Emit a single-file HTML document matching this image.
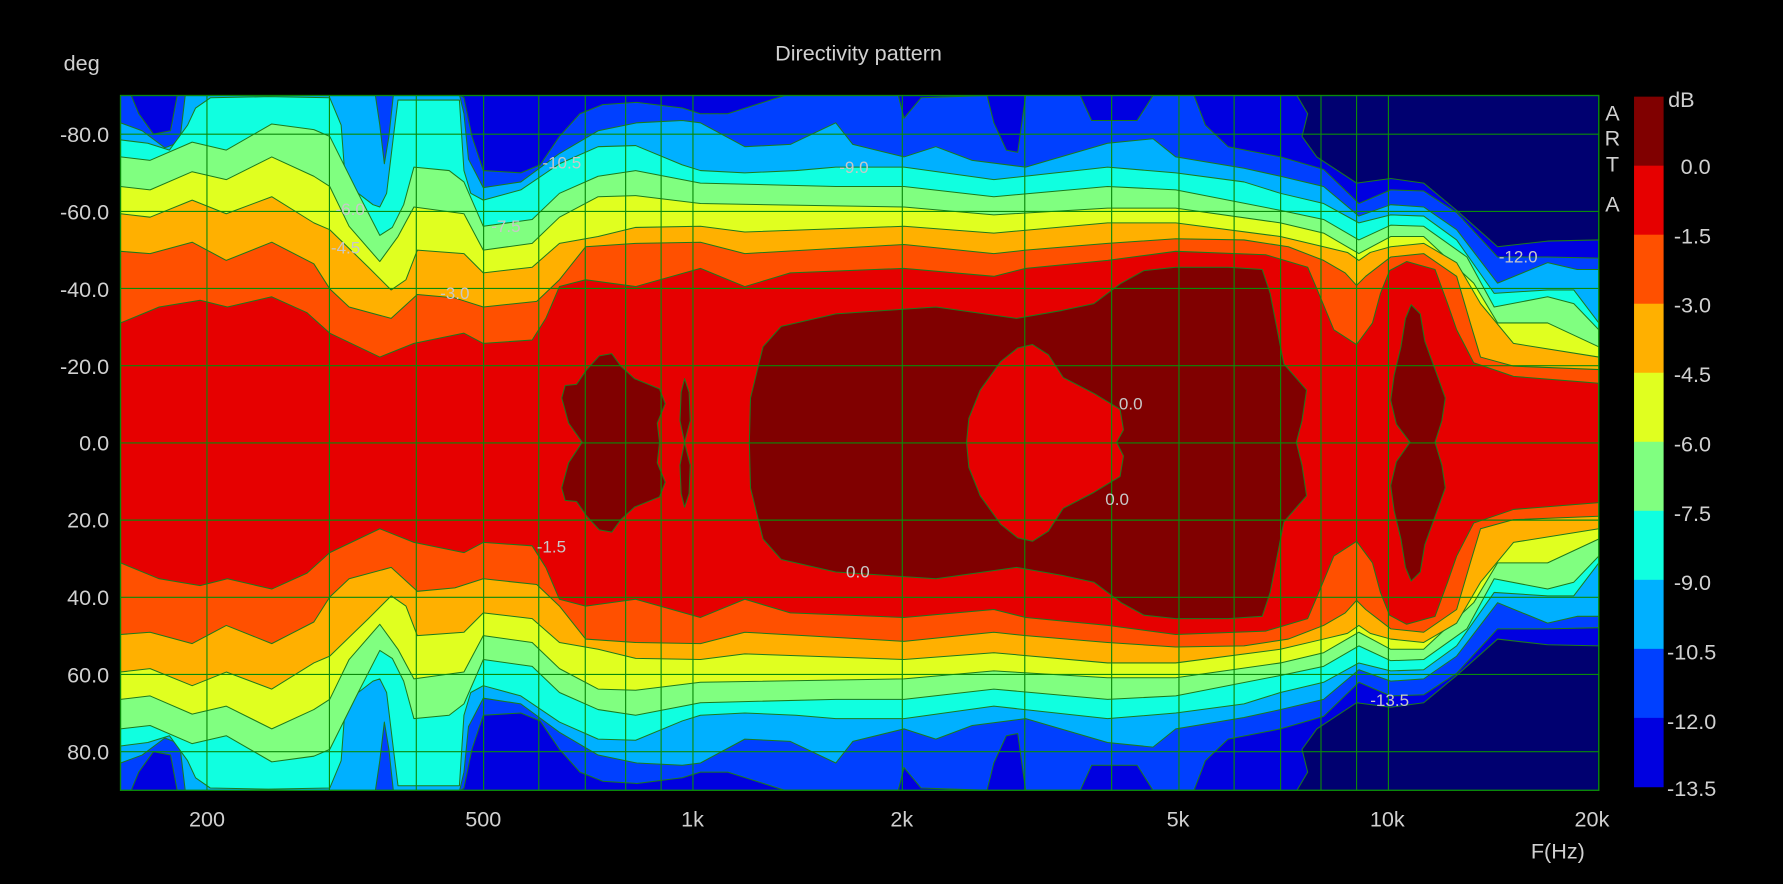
<!DOCTYPE html>
<html><head><meta charset="utf-8">
<style>
html,body{margin:0;padding:0;background:#000;}
svg{display:block;}
text{font-family:"Liberation Sans",sans-serif;}
</style></head>
<body>
<svg width="1783" height="884" viewBox="0 0 1568 777.4" xmlns="http://www.w3.org/2000/svg">
<rect x="0" y="0" width="1568" height="777.4" fill="#000"/>
<defs><clipPath id="cp"><rect x="106" y="84" width="1300" height="611"/></clipPath></defs>
<g clip-path="url(#cp)" stroke="#1c7a1c" stroke-width="0.9" stroke-linejoin="round">
<rect x="106" y="84" width="1300" height="611" fill="#000070" stroke="none"/>
<polygon fill="#0000e0" points="100,83 106,83 1140,83 1150,100 1145,120 1158,138 1193,161 1223,157 1252,161 1281,185 1317,217 1361,212 1406,211 1412,211 1412,568 1406,568 1361,567 1317,562 1281,594 1252,618 1223,622 1193,618 1158,641 1145,659 1150,679 1140,696 106,696 100,696"/>
<polygon fill="#0040ff" points="100,83 106,83 115,83 122,100 135,118 150,115 156,83 404,83 408,86 415,120 425,150 458,152 475,145 492,120 510,100 530,92 560,90 600,95 616,100 640,100 690,84 790,84 795,104 810,86 868,84 874,108 885,132 895,134 902,84 950,84 960,106 1000,106 1014,84 1050,84 1060,110 1080,129 1126,138 1164,149 1195,179 1223,167 1252,168 1281,187 1317,226 1361,226 1406,227 1412,227 1412,552 1406,552 1361,553 1317,553 1281,592 1252,611 1223,612 1195,600 1164,630 1126,641 1080,650 1060,669 1050,695 1014,695 1000,673 960,673 950,695 902,695 895,645 885,647 874,671 868,695 810,693 795,675 790,695 690,695 640,679 616,679 600,684 560,689 530,687 510,679 492,659 475,634 458,627 425,629 415,659 408,693 404,696 156,696 150,664 135,661 122,679 115,696 100,696"/>
<polygon fill="#00b0ff" points="100,108 106,108 125,115 145,130 158,125 163,83 330,83 334,110 338,144 342,120 346,83 404,83 408,100 412,140 425,165 458,160 492,135 526,115 560,108 600,106 616,108 655,129 695,127 735,108 750,127 795,138 823,129 855,141 902,147 974,126 1014,122 1034,138 1094,148 1126,155 1164,164 1195,190 1223,180 1252,182 1281,202 1317,249 1361,231 1387,237 1406,237 1412,237 1412,542 1406,542 1387,542 1361,548 1317,530 1281,577 1252,597 1223,599 1195,589 1164,615 1126,624 1094,631 1034,641 1014,657 974,653 902,632 855,638 823,650 795,641 750,652 735,671 695,652 655,650 616,671 600,673 560,671 526,664 492,644 458,619 425,614 412,639 408,679 404,696 346,696 342,659 338,635 334,669 330,696 163,696 158,654 145,649 125,664 106,671 100,671"/>
<polygon fill="#10ffe0" points="100,123 106,123 130,126 149,132 165,110 172,95 185,86 236,85 290,86 300,110 303,150 315,170 328,180 334,182 340,170 346,120 350,88 404,88 408,150 414,170 425,176 458,167 492,144 526,129 559,128 600,145 616,150 655,152 700,150 735,147 795,147 874,158 974,147 1034,152 1094,160 1126,170 1164,179 1195,196 1223,189 1252,190 1281,211 1314,258 1361,255 1384,255 1406,284 1412,284 1412,495 1406,495 1384,524 1361,524 1314,521 1281,568 1252,589 1223,590 1195,583 1164,600 1126,609 1094,619 1034,627 974,632 874,621 795,632 735,632 700,629 655,627 616,629 600,634 559,651 526,650 492,635 458,612 425,603 414,609 408,629 404,691 350,691 346,659 340,609 334,597 328,599 315,609 303,629 300,669 290,693 236,694 185,693 172,684 165,669 149,647 130,653 106,656 100,656"/>
<polygon fill="#80ff80" points="100,138 106,138 132,141 169,125 199,132 239,109 276,114 290,120 305,150 315,170 334,207 345,200 355,180 364,147 395,150 408,160 425,199 468,193 492,170 526,155 559,150 616,161 735,164 795,164 874,173 974,164 1034,167 1126,185 1164,193 1195,211 1223,198 1252,199 1290,226 1314,270 1361,261 1384,267 1406,290 1412,290 1412,489 1406,489 1384,512 1361,518 1314,509 1290,553 1252,580 1223,581 1195,568 1164,586 1126,594 1034,612 974,615 874,606 795,615 735,615 616,618 559,629 526,624 492,609 468,586 425,580 408,619 395,629 364,632 355,599 345,579 334,572 315,609 305,629 290,659 276,665 239,670 199,647 169,654 132,638 106,641 100,641"/>
<polygon fill="#e0ff20" points="100,164 106,164 132,167 169,151 199,158 239,138 276,155 290,164 307,199 334,230 350,208 364,182 408,188 425,220 468,214 492,191 526,173 559,172 616,179 795,182 874,189 974,183 1034,183 1126,196 1164,205 1195,223 1223,208 1252,208 1296,249 1317,284 1361,284 1406,305 1412,305 1412,474 1406,474 1361,495 1317,495 1296,530 1252,571 1223,571 1195,556 1164,574 1126,583 1034,596 974,596 874,590 795,597 616,600 559,607 526,606 492,588 468,565 425,559 408,591 364,597 350,571 334,549 307,580 290,615 276,624 239,641 199,621 169,628 132,612 106,615 100,615"/>
<polygon fill="#ffb000" points="100,188 106,188 132,191 169,176 199,188 239,173 276,196 290,202 324,235 344,255 357,246 367,220 408,223 425,240 468,235 492,214 526,208 559,200 616,199 655,204 795,199 874,205 974,196 1034,196 1126,208 1164,217 1185,222 1195,229 1205,222 1223,217 1252,214 1281,231 1302,267 1331,302 1406,314 1412,314 1412,465 1406,465 1331,477 1302,512 1281,548 1252,565 1223,562 1205,557 1195,550 1185,557 1164,562 1126,571 1034,583 974,583 874,574 795,580 655,575 616,580 559,579 526,571 492,565 468,544 425,539 408,556 367,559 357,533 344,524 324,544 290,577 276,583 239,606 199,591 169,603 132,588 106,591 100,591"/>
<polygon fill="#ff5000" points="100,221 106,221 132,223 169,213 199,229 239,213 276,232 290,254 307,270 344,280 367,259 400,262 425,270 472,265 492,246 515,217 559,214 616,213 655,223 795,215 874,223 902,220 974,214 1034,210 1094,211 1133,217 1164,229 1183,240 1193,251 1201,243 1223,226 1252,223 1281,243 1293,284 1302,314 1331,322 1406,325 1412,325 1412,454 1406,454 1331,457 1302,465 1293,495 1281,536 1252,556 1223,553 1201,536 1193,528 1183,539 1164,550 1133,562 1094,568 1034,569 974,565 902,559 874,556 795,564 655,556 616,566 559,565 515,562 492,533 472,514 425,509 400,517 367,520 344,499 307,509 290,525 276,547 239,566 199,550 169,566 132,556 106,558 100,558"/>
<polygon fill="#e60000" points="100,284 106,284 140,270 176,264 200,270 239,261 270,275 290,293 334,314 364,302 408,293 425,302 468,299 480,280 492,252 515,246 559,252 616,236 655,252 695,240 795,236 874,243 902,236 974,229 1034,221 1113,224 1150,235 1161,261 1173,290 1193,303 1207,284 1214,258 1222,238 1237,230 1262,237 1273,267 1281,290 1296,319 1331,331 1406,337 1412,337 1412,442 1406,442 1331,448 1296,460 1281,489 1273,512 1262,542 1237,549 1222,541 1214,521 1207,495 1193,476 1173,489 1161,518 1150,544 1113,555 1034,558 974,550 902,543 874,536 795,543 695,539 655,527 616,543 559,527 515,533 492,527 480,499 468,480 425,477 408,486 364,477 334,465 290,486 270,504 239,518 200,509 176,515 140,509 106,495 100,495"/>
<polygon fill="#800000" points="659,389 660,350 671,305 687,287 735,276 823,270 894,280 934,273 962,267 986,249 1006,238 1034,235 1080,235 1110,237 1117,258 1129,320 1149,343 1145,370 1140,389 1145,409 1149,436 1129,459 1117,521 1110,542 1080,544 1034,544 1006,541 986,530 962,512 934,506 894,499 823,509 735,503 687,492 671,474 660,429"/>
<polygon fill="#e60000" points="850,389 852,368 862,343 880,318 895,306 908,303 922,312 935,332 962,346 985,360 988,378 982,389 988,401 985,419 962,433 935,447 922,467 908,476 895,473 880,461 862,436 852,411"/>
<polygon fill="#800000" points="512,389 500,372 494,350 497,339 507,338 516,325 527,313 538,311 546,322 558,333 580,342 585,355 578,372 580,389 578,407 585,424 580,437 558,446 546,457 538,468 527,466 516,454 507,441 497,440 494,429 500,407"/>
<polygon fill="#800000" points="602,389 598,370 599,345 602,333 606,345 607,370 602,389 607,409 606,434 602,446 599,434 598,409"/>
<polygon fill="#800000" points="1240,389 1228,373 1223,352 1226,330 1232,305 1236,280 1241,268 1249,276 1253,300 1265,333 1271,350 1268,370 1262,389 1268,409 1271,429 1265,446 1253,479 1249,503 1241,511 1236,499 1232,474 1226,449 1223,427 1228,406"/>
</g>
<g stroke="#0a8a0a" stroke-width="1" fill="none">
<path d="M106,118H1406M106,185.9H1406M106,253.7H1406M106,321.6H1406M106,389.5H1406M106,457.4H1406M106,525.3H1406M106,593.1H1406M106,661H1406"/>
<path d="M182,84V695M289.7,84V695M366.1,84V695M425.3,84V695M473.8,84V695M514.7,84V695M550.2,84V695M581.4,84V695M609.4,84V695M793.5,84V695M901.2,84V695M977.6,84V695M1036.8,84V695M1085.3,84V695M1126.2,84V695M1161.7,84V695M1193,84V695M1221,84V695"/>
<rect x="106" y="84" width="1300" height="611" stroke-width="1.2"/>
</g>
<rect x="1437" y="85" width="26" height="61" fill="#800000"/>
<rect x="1437" y="145.7" width="26" height="61" fill="#e60000"/>
<rect x="1437" y="206.4" width="26" height="61" fill="#ff5000"/>
<rect x="1437" y="267.1" width="26" height="61" fill="#ffb000"/>
<rect x="1437" y="327.8" width="26" height="61" fill="#e0ff20"/>
<rect x="1437" y="388.5" width="26" height="61" fill="#80ff80"/>
<rect x="1437" y="449.2" width="26" height="61" fill="#10ffe0"/>
<rect x="1437" y="509.9" width="26" height="61" fill="#00b0ff"/>
<rect x="1437" y="570.6" width="26" height="61" fill="#0040ff"/>
<rect x="1437" y="631.3" width="26" height="61" fill="#0000e0"/>
<g fill="#c8c8c8" font-size="15">
<text x="477" y="148">-10.5</text>
<text x="738" y="152">-9.0</text>
<text x="295" y="189">-6.0</text>
<text x="432" y="204">-7.5</text>
<text x="291" y="223">-4.5</text>
<text x="387" y="263">-3.0</text>
<text x="1318" y="231">-12.0</text>
<text x="984" y="360">0.0</text>
<text x="972" y="444">0.0</text>
<text x="472" y="486">-1.5</text>
<text x="744" y="508">0.0</text>
<text x="1205" y="621">-13.5</text>
</g>
<g fill="#d0d0d0" font-size="19">
<text x="755" y="53" text-anchor="middle">Directivity pattern</text>
<text x="56" y="62">deg</text>
<g text-anchor="end">
<text x="96" y="125">-80.0</text><text x="96" y="193">-60.0</text><text x="96" y="261">-40.0</text><text x="96" y="329">-20.0</text><text x="96" y="396">0.0</text><text x="96" y="464">20.0</text><text x="96" y="532">40.0</text><text x="96" y="600">60.0</text><text x="96" y="668">80.0</text>
</g>
<g text-anchor="middle">
<text x="182" y="727">200</text><text x="425" y="727">500</text><text x="609" y="727">1k</text><text x="793" y="727">2k</text><text x="1036" y="727">5k</text><text x="1220" y="727">10k</text><text x="1400" y="727">20k</text>
<text x="1370" y="755">F(Hz)</text>
</g>
<g text-anchor="middle"><text x="1418" y="106">A</text><text x="1418" y="128">R</text><text x="1418" y="151">T</text><text x="1418" y="186">A</text></g>
<text x="1467" y="94">dB</text>
<text x="1478" y="153">0.0</text><text x="1472" y="214">-1.5</text><text x="1472" y="275">-3.0</text><text x="1472" y="336">-4.5</text><text x="1472" y="397">-6.0</text><text x="1472" y="458">-7.5</text><text x="1472" y="519">-9.0</text><text x="1466" y="580">-10.5</text><text x="1466" y="641">-12.0</text><text x="1466" y="700">-13.5</text>
</g>
</svg>
</body></html>
